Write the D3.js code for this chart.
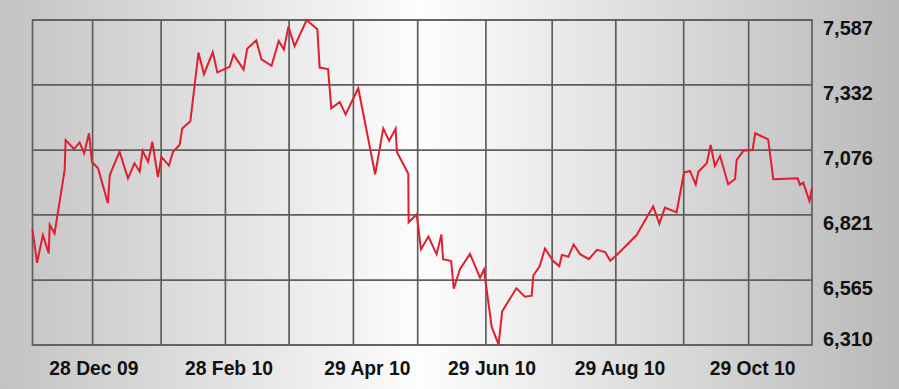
<!DOCTYPE html>
<html>
<head>
<meta charset="utf-8">
<script src="https://cdn.jsdelivr.net/npm/d3@7"></script>
<style>
  html, body { margin: 0; padding: 0; background: #fff; }
  svg { display: block; }
  .lbl { font-family: "Liberation Sans", Arial, sans-serif; font-weight: bold; fill: #111; font-size: 21px; }
</style>
</head>
<body>
<div id="chart"></div>
<script>
// trading-day index (0 = left edge of plot) and index level
const days = [0, 1.4, 3.2, 5.0, 5.3, 6.8, 9.9, 10.2, 12.8, 14.5,
  15.9, 17.4, 18.3, 20.2, 23.2, 23.8, 26.8, 29.4, 31.4, 33.0,
  33.9, 35.6, 36.9, 38.6, 39.7, 42.0, 43.3, 45.3, 46.1, 48.6,
  51.1, 52.8, 55.5, 56.9, 60.7, 61.9, 65.0, 66.1, 68.9, 70.5,
  73.6, 75.8, 77.4, 78.8, 80.7, 84.4, 87.7, 88.4, 91.0, 92.0,
  94.6, 96.4, 100.3, 105.5, 108.0, 109.8, 111.8, 112.2, 115.7, 115.8,
  118.3, 119.6, 121.9, 124.4, 125.9, 126.4, 128.9, 129.7, 131.6, 134.7,
  137.8, 139.0, 141.4, 143.5, 144.6, 149.0, 151.6, 153.7, 154.2, 156.1,
  157.8, 160.3, 162.2, 163.0, 165.0, 166.6, 168.6, 171.3, 173.8, 176.3,
  177.9, 179.9, 186.0, 191.1, 193.0, 194.7, 198.3, 200.6, 202.4, 204.2,
  205.0, 207.6, 208.8, 210.1, 211.7, 214.2, 216.3, 216.8, 218.9, 221.7,
  222.5, 226.5, 228.1, 235.6, 236.3, 237.3, 239.2, 240];

const values = [6762, 6633, 6742, 6670, 6782, 6749, 6998, 7115, 7080, 7106,
  7063, 7142, 7029, 7004, 6867, 6978, 7070, 6965, 7024, 6991,
  7073, 7030, 7109, 6970, 7049, 7015, 7070, 7096, 7161, 7189,
  7459, 7374, 7461, 7381, 7403, 7451, 7392, 7474, 7507, 7432,
  7407, 7505, 7471, 7561, 7484, 7587, 7551, 7400, 7394, 7240,
  7265, 7216, 7319, 6981, 7161, 7112, 7160, 7068, 6983, 6792,
  6823, 6686, 6736, 6667, 6744, 6647, 6640, 6531, 6608, 6668,
  6574, 6607, 6380, 6312, 6442, 6533, 6500, 6504, 6583, 6618,
  6689, 6640, 6620, 6664, 6657, 6705, 6667, 6647, 6684, 6675,
  6641, 6664, 6742, 6855, 6787, 6850, 6831, 6988, 6994, 6941,
  6991, 7024, 7096, 7013, 7053, 6941, 6962, 7037, 7073, 7076,
  7142, 7118, 6961, 6965, 6939, 6948, 6876, 6927];

const yTicks = [6310, 6565, 6821, 7076, 7332, 7587];
const gridDays = [18.5, 39.6, 59.4, 79.0, 98.8, 118.6, 139.6, 160.0, 179.6, 200.5, 220.5];
const xLabels = ["28 Dec 09", "28 Feb 10", "29 Apr 10", "29 Jun 10", "29 Aug 10", "29 Oct 10"];
const xLabelDays = [18.9, 60.5, 103.1, 141.5, 180.9, 221.7];

const W = 899, H = 389;
const margin = {top: 20, right: 87, bottom: 44, left: 32.5};
const width = W - margin.left - margin.right;
const height = H - margin.top - margin.bottom;

const svg = d3.select("#chart").append("svg")
    .attr("width", W)
    .attr("height", H);

// background shading, light in the middle, grey at the sides
const grad = svg.append("defs").append("linearGradient")
    .attr("id", "bg")
    .attr("x1", 0).attr("x2", 1).attr("y1", 0).attr("y2", 0);
grad.append("stop").attr("offset", "0%").attr("stop-color", "#c3c3c3");
grad.append("stop").attr("offset", "47%").attr("stop-color", "#fdfdfd");
grad.append("stop").attr("offset", "100%").attr("stop-color", "#b9b9b9");

svg.append("rect")
    .attr("width", W)
    .attr("height", H)
    .attr("fill", "url(#bg)");

const g = svg.append("g")
    .attr("transform", `translate(${margin.left}, ${margin.top})`);

const x = d3.scaleLinear().domain([0, 240]).range([0, width]);
const y = d3.scaleLinear().domain([yTicks[0], yTicks[yTicks.length - 1]]).range([height, 0]);

const gridColor = "#5e5e5e";

// horizontal grid
g.append("g").selectAll("line")
    .data(yTicks)
    .join("line")
    .attr("x1", 0).attr("x2", width)
    .attr("y1", d => y(d)).attr("y2", d => y(d))
    .attr("stroke", gridColor)
    .attr("stroke-width", 1.7);

// vertical grid
g.append("g").selectAll("line")
    .data(gridDays)
    .join("line")
    .attr("x1", d => x(d)).attr("x2", d => x(d))
    .attr("y1", 0).attr("y2", height)
    .attr("stroke", gridColor)
    .attr("stroke-width", 1.7);

g.append("rect")
    .attr("width", width)
    .attr("height", height)
    .attr("fill", "none")
    .attr("stroke", gridColor)
    .attr("stroke-width", 1.7);

const pts = days.map((d, i) => ({x: d, y: values[i]}));

const line = d3.line()
    .x(d => x(d.x))
    .y(d => y(d.y));

g.append("path")
    .datum(pts)
    .attr("d", line)
    .attr("fill", "none")
    .attr("stroke", "#e01e2d")
    .attr("stroke-width", 2)
    .attr("stroke-linejoin", "miter");

// right axis labels
g.append("g").selectAll("text")
    .data(yTicks)
    .join("text")
    .attr("class", "lbl")
    .attr("transform", d => `translate(${width + 11}, ${Math.min(y(d) + 15, height + 1)}) scale(0.95, 1)`)
    .text(d => d3.format(",")(d));

// bottom date labels
g.append("g").selectAll("text")
    .data(xLabels)
    .join("text")
    .attr("class", "lbl")
    .attr("text-anchor", "middle")
    .attr("transform", (d, i) => `translate(${x(xLabelDays[i])}, ${height + 30}) scale(0.92, 1)`)
    .text(d => d);
</script>
</body>
</html>
